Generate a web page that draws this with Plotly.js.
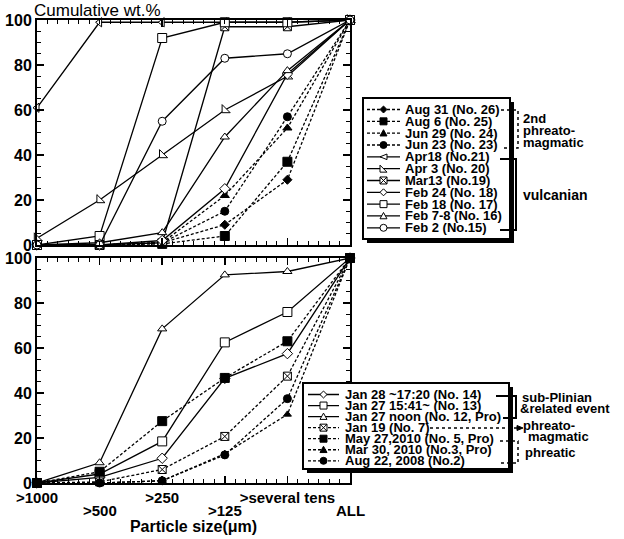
<!DOCTYPE html>
<html><head><meta charset="utf-8">
<script src="https://cdn.plot.ly/plotly-3.0.1.min.js"></script>
<style>html,body{margin:0;padding:0;background:#fff}#chart{width:624px;height:539px}</style>
</head><body><div id="chart"></div>
<script>
// ---------- DATA ----------
const categories = ['>1000', '>500', '>250', '>125', '>several tens', 'ALL'];
const yTicks = [0, 20, 40, 60, 80, 100];

// Upper panel (2nd phreatomagmatic + vulcanian)
const topNames = ['Aug 31 (No. 26)', 'Aug 6 (No. 25)', 'Jun 29 (No. 24)', 'Jun 23 (No. 23)',
  'Apr18 (No.21)', 'Apr 3 (No. 20)', 'Mar13 (No.19)', 'Feb 24 (No. 18)', 'Feb 18 (No. 17)',
  'Feb 7-8 (No. 16)', 'Feb 2 (No.15)'];
const aug31 = [0, 0, 1, 9, 29, 100];
const aug6 = [0, 0, 0.5, 4, 37, 100];
const jun29 = [0, 0, 1, 22, 52, 100];
const jun23 = [0, 0, 1, 15, 57, 100];
const apr18 = [61, 99, 99, 99, 99, 100];
const apr3 = [3, 20, 40, 60, 75, 100];
const mar13 = [0, 0, 1, 97, 97, 100];
const feb24 = [0, 0, 2, 25, 76, 100];
const feb18 = [0, 4, 92, 99, 99, 100];
const feb7 = [0, 1, 5.5, 48, 77.5, 100];
const feb2 = [0, 0, 55, 83, 85, 100];
const topValues = [aug31, aug6, jun29, jun23, apr18, apr3, mar13, feb24, feb18, feb7, feb2];

// Lower panel (sub-Plinian, phreatomagmatic, phreatic)
const botNames = ['Jan 28 ~17:20 (No. 14)', 'Jan 27 15:41~ (No. 13)', 'Jan 27 noon (No. 12, Pro)',
  'Jan 19 (No. 7)', 'May 27,2010 (No. 5, Pro)', 'Mar 30, 2010 (No.3, Pro)', 'Aug 22, 2008 (No.2)'];
const jan28 = [0, 2.5, 11, 46.5, 57.5, 100];
const jan27b = [0, 4, 18.5, 62.5, 76, 100];
const jan27noon = [0, 9, 68.5, 92.5, 94, 100];
const jan19 = [0, 0.5, 6, 20.7, 47.5, 100];
const may27 = [0, 5, 27.5, 46.7, 63, 100];
const mar30 = [0, 0, 1, 13, 30.5, 100];
const aug22 = [0, 0, 1, 12.5, 37.5, 100];
const botValues = [jan28, jan27b, jan27noon, jan19, may27, mar30, aug22];

// ---------- STYLES ----------
const topStyle = [
  {dash: true, sym: 'diamond', fill: true, size: 7},
  {dash: true, sym: 'square', fill: true, size: 9},
  {dash: true, sym: 'triangle-up', fill: true, size: 8},
  {dash: true, sym: 'circle', fill: true, size: 8},
  {dash: false, sym: 'triangle-left', fill: false, size: 8},
  {dash: false, sym: 'triangle-sw', fill: false, size: 9},
  {dash: false, sym: 'square-x', fill: false, size: 8},
  {dash: false, sym: 'diamond', fill: false, size: 8},
  {dash: false, sym: 'square', fill: false, size: 9},
  {dash: false, sym: 'triangle-up', fill: false, size: 8},
  {dash: false, sym: 'circle', fill: false, size: 8}
];
const botStyle = [
  {dash: false, sym: 'diamond', fill: false, size: 8},
  {dash: false, sym: 'square', fill: false, size: 9},
  {dash: false, sym: 'triangle-up', fill: false, size: 8},
  {dash: true, sym: 'square-x', fill: false, size: 8},
  {dash: true, sym: 'square', fill: true, size: 9},
  {dash: true, sym: 'triangle-up', fill: true, size: 7},
  {dash: true, sym: 'circle', fill: true, size: 8}
];
const DASH = '3px,2px';
const FONT = 'Liberation Sans, Arial, Helvetica, sans-serif';
const xIdx = categories.map((c, i) => i);

function mkTrace(name, y, st, xa, ya) {
  return {
    type: 'scatter', mode: 'lines+markers', name: name,
    x: xIdx, y: y, xaxis: xa, yaxis: ya, cliponaxis: false, hoverinfo: 'name+y',
    line: {color: 'black', width: 1.3, dash: st.dash ? DASH : 'solid'},
    marker: {symbol: st.sym, size: st.size, color: st.fill ? 'black' : 'white',
      line: {color: 'black', width: 1}}
  };
}
const traces = [];
topValues.forEach((v, i) => traces.push(mkTrace(topNames[i], v, topStyle[i], 'x2', 'y2')));
botValues.forEach((v, i) => traces.push(mkTrace(botNames[i], v, botStyle[i], 'x', 'y')));

// ---------- PIXEL -> PAPER helpers ----------
const ML = 37, MR = 274, MT = 20, MB = 56, W = 624, H = 539;
const PW = W - ML - MR, PH = H - MT - MB;
const X = px => (px - ML) / PW;
const Y = py => (H - MB - py) / PH;

const shapes = [];
const annotations = [];

function pathOf(pts, close) {
  return 'M' + pts.map(p => X(p[0]).toFixed(5) + ',' + Y(p[1]).toFixed(5)).join('L') + (close ? 'Z' : '');
}
function legendMarker(st, cx, cy) {
  const r = 3.5;
  const base = {xref: 'paper', yref: 'paper', layer: 'above',
    fillcolor: st.fill ? 'black' : 'white', line: {color: 'black', width: 1}};
  let s;
  switch (st.sym) {
    case 'circle':
      s = [{type: 'circle', x0: X(cx - r), x1: X(cx + r), y0: Y(cy + r), y1: Y(cy - r)}]; break;
    case 'square':
      s = [{type: 'rect', x0: X(cx - r), x1: X(cx + r), y0: Y(cy + r), y1: Y(cy - r)}]; break;
    case 'square-x':
      s = [{type: 'rect', x0: X(cx - r), x1: X(cx + r), y0: Y(cy + r), y1: Y(cy - r)},
           {type: 'path', path: pathOf([[cx - r, cy - r], [cx + r, cy + r]]) + pathOf([[cx + r, cy - r], [cx - r, cy + r]])}];
      break;
    case 'diamond':
      s = [{type: 'path', path: pathOf([[cx, cy - r], [cx + r, cy], [cx, cy + r], [cx - r, cy]], true)}]; break;
    case 'triangle-up':
      s = [{type: 'path', path: pathOf([[cx, cy - r], [cx + r, cy + r * 0.8], [cx - r, cy + r * 0.8]], true)}]; break;
    case 'triangle-left':
      s = [{type: 'path', path: pathOf([[cx - r, cy], [cx + r, cy - r * 0.8], [cx + r, cy + r * 0.8]], true)}]; break;
    case 'triangle-sw':
      s = [{type: 'path', path: pathOf([[cx - r, cy - r], [cx + r, cy + r], [cx - r, cy + r]], true)}]; break;
  }
  s.forEach(o => shapes.push(Object.assign({}, base, o)));
}
function box(x0, y0, x1, y1) {
  shapes.push({type: 'rect', xref: 'paper', yref: 'paper', layer: 'above',
    x0: X(x0 + 4), x1: X(x1 + 4), y0: Y(y1 + 4), y1: Y(y0 + 4), fillcolor: 'black', line: {width: 0}});
  shapes.push({type: 'rect', xref: 'paper', yref: 'paper', layer: 'above',
    x0: X(x0), x1: X(x1), y0: Y(y1), y1: Y(y0), fillcolor: 'white', line: {color: 'black', width: 2}});
}
function seg(pts, dash, width) {
  shapes.push({type: 'path', xref: 'paper', yref: 'paper', layer: 'above', path: pathOf(pts),
    line: {color: 'black', width: width || 1.5, dash: dash || 'solid'}});
}
function text(t, x, y, size, bold, anchor) {
  annotations.push({xref: 'paper', yref: 'paper', x: X(x), y: Y(y), xanchor: anchor || 'left', yanchor: 'middle',
    showarrow: false, text: t, borderpad: 0,
    font: {family: FONT, size: size, color: 'black', weight: bold ? 'bold' : 'normal'}});
}
function legend(names, styles, bx0, by0, bx1, by1, lx0, lx1, tx, ry0, rdy) {
  box(bx0, by0, bx1, by1);
  names.forEach((n, i) => {
    const cy = ry0 + rdy * i;
    seg([[lx0, cy], [lx1, cy]], styles[i].dash ? DASH : 'solid', 1.3);
    legendMarker(styles[i], (lx0 + lx1) / 2, cy);
    text(n, tx, cy, 13, true);
  });
}

// Upper legend
legend(topNames, topStyle, 363, 98, 510, 239, 367, 400, 404, 109.5, 11.83);
// brackets upper
seg([[501, 110], [518, 110], [518, 148], [501, 148]], 'dot', 1.5);
text('2nd', 522, 118, 13, true);
text('phreato-', 522, 130, 13, true);
text('magmatic', 522, 142, 13, true);
seg([[500, 159], [516, 159], [516, 230], [500, 230]], 'solid', 2);
text('vulcanian', 522, 195, 14, true);

// Lower legend
legend(botNames, botStyle, 303, 383, 509, 469, 308, 339, 344, 394.5, 11.05);
seg([[496, 396], [516, 396], [516, 418], [503, 418]], 'solid', 2);
text('sub-Plinian', 521, 397, 13, true);
text('&related event', 519, 408, 13, true);
seg([[430, 428], [518, 428]], 'dot', 1.5);
shapes.push({type: 'path', xref: 'paper', yref: 'paper', layer: 'above',
  path: pathOf([[517, 425.5], [523, 428], [517, 430.5]], true), fillcolor: 'black', line: {color: 'black', width: 1}});
text('phreato-', 522, 425, 13, true);
text('magmatic', 527, 436, 13, true);
seg([[500, 441], [518, 441], [518, 463], [500, 463]], 'dot', 1.5);
text('phreatic', 524, 452, 13, true);

// Y title (top-left)
text('Cumulative wt.%', 33, 10, 17, false);

// ---------- AXES ----------
const tickFontX = {family: FONT, size: 15, color: 'black', weight: 'bold'};
// staggered category labels: odd categories drawn one row lower, at their axis positions
categories.forEach((c, i) => {
  if (i % 2) annotations.push({xref: 'x', yref: 'paper', x: i, y: Y(510), xanchor: 'center', yanchor: 'middle',
    showarrow: false, text: c, borderpad: 0, font: tickFontX});
});
function xAxis(showLabels, anchor) {
  return {
    domain: [0, 1], anchor: anchor, range: [0, 5], tickmode: 'array', tickvals: xIdx,
    ticktext: categories.map((c, i) => (i % 2 ? '' : c)),
    showticklabels: showLabels, tickangle: 0, automargin: false,
    ticks: 'inside', ticklen: 7, tickwidth: 1.5, tickcolor: 'black',
    showline: true, linewidth: 2, linecolor: 'black', mirror: 'ticks',
    showgrid: false, zeroline: false,
    tickfont: tickFontX,
    minor: {dtick: 1 / 6, tick0: 0, ticks: 'inside', ticklen: 4, tickwidth: 1, tickcolor: 'black', showgrid: false}
  };
}
function yAxis(domain, anchor) {
  return {
    domain: domain, anchor: anchor, range: [0, 100], tickmode: 'array', tickvals: yTicks,
    ticks: 'inside', ticklen: 7, tickwidth: 1.5, tickcolor: 'black', automargin: false,
    showline: true, linewidth: 2, linecolor: 'black', mirror: 'ticks',
    showgrid: false, zeroline: false,
    tickfont: {family: FONT, size: 16, color: 'black', weight: 'bold'},
    minor: {dtick: 5, tick0: 0, ticks: 'inside', ticklen: 4, tickwidth: 1, tickcolor: 'black', showgrid: false}
  };
}
const xa = xAxis(true, 'y');
xa.title = {text: 'Particle size(μm)', font: {family: FONT, size: 16, color: 'black', weight: 'bold'}, standoff: 16};
const layout = {
  width: W, height: H,
  margin: {l: ML, r: MR, t: MT, b: MB, pad: 0},
  paper_bgcolor: 'white', plot_bgcolor: 'white',
  showlegend: false,
  font: {family: FONT, color: 'black'},
  xaxis: xa,
  yaxis: yAxis([0, (H - MB - 258) / PH], 'x'),
  xaxis2: xAxis(false, 'y2'),
  yaxis2: yAxis([(H - MB - 245) / PH, 1], 'x2'),
  shapes: shapes,
  annotations: annotations
};
Plotly.newPlot('chart', traces, layout, {displayModeBar: false, staticPlot: true});
</script></body></html>
